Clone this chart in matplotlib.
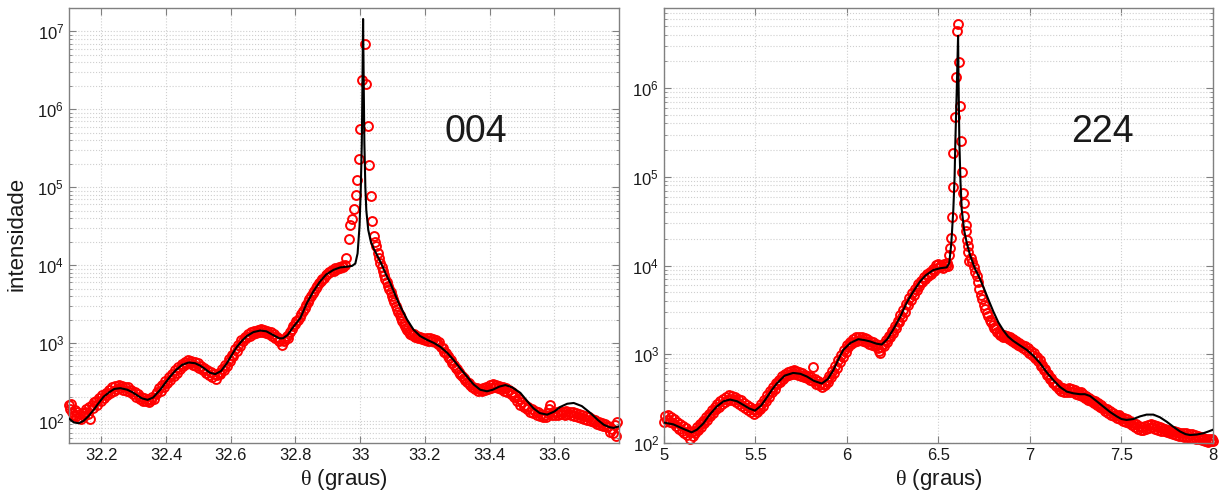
import numpy as np
import matplotlib
matplotlib.use("Agg")
import matplotlib.pyplot as plt
from matplotlib.ticker import LogLocator, FixedLocator, FuncFormatter, NullFormatter

plt.rcParams['font.family'] = ['Liberation Sans', 'DejaVu Sans']
plt.rcParams['mathtext.fontset'] = 'custom'
plt.rcParams['mathtext.rm'] = 'Liberation Serif'

# ---------------- Data: reflection 004 (theta in degrees, log10 intensity) ----------------
theta_004 = [
    32.100, 32.103, 32.106, 32.110, 32.114, 32.118, 32.122, 32.126, 32.130, 32.134,
    32.138, 32.142, 32.146, 32.150, 32.154, 32.158, 32.162, 32.166, 32.170, 32.174,
    32.178, 32.183, 32.188, 32.193, 32.198, 32.203, 32.208, 32.213, 32.218, 32.223,
    32.228, 32.233, 32.238, 32.243, 32.248, 32.253, 32.258, 32.263, 32.268, 32.273,
    32.278, 32.283, 32.288, 32.293, 32.298, 32.303, 32.308, 32.313, 32.318, 32.323,
    32.328, 32.333, 32.338, 32.343, 32.348, 32.353, 32.358, 32.363, 32.368, 32.373,
    32.378, 32.383, 32.388, 32.393, 32.398, 32.403, 32.408, 32.413, 32.418, 32.423,
    32.428, 32.433, 32.438, 32.443, 32.448, 32.453, 32.458, 32.463, 32.468, 32.473,
    32.478, 32.483, 32.488, 32.493, 32.498, 32.503, 32.508, 32.513, 32.518, 32.523,
    32.528, 32.533, 32.538, 32.543, 32.548, 32.553, 32.558, 32.563, 32.568, 32.573,
    32.578, 32.583, 32.588, 32.593, 32.598, 32.603, 32.608, 32.613, 32.618, 32.623,
    32.628, 32.633, 32.638, 32.643, 32.648, 32.653, 32.658, 32.663, 32.668, 32.673,
    32.678, 32.683, 32.688, 32.693, 32.698, 32.703, 32.708, 32.713, 32.718, 32.723,
    32.728, 32.733, 32.738, 32.743, 32.748, 32.753, 32.758, 32.763, 32.768, 32.773,
    32.778, 32.783, 32.788, 32.793, 32.798, 32.803, 32.808, 32.813, 32.818, 32.823,
    32.828, 32.833, 32.838, 32.843, 32.848, 32.853, 32.858, 32.863, 32.868, 32.873,
    32.878, 32.883, 32.888, 32.893, 32.898, 32.903, 32.908, 32.913, 32.918, 32.923,
    32.928, 32.933, 32.938, 32.943, 32.948, 32.953, 32.956,
    32.965, 32.970, 32.975, 32.980, 32.986, 32.990, 32.995, 33.000, 33.005, 33.014,
    33.019, 33.023, 33.027, 33.032, 33.038, 33.042, 33.046, 33.050, 33.054,
    33.058, 33.062, 33.066, 33.070, 33.074, 33.078, 33.082, 33.086, 33.090, 33.094,
    33.098, 33.102, 33.106, 33.110, 33.114, 33.118, 33.122, 33.126, 33.130, 33.134,
    33.138, 33.142, 33.146, 33.150, 33.155, 33.160, 33.165, 33.170, 33.175, 33.180,
    33.185, 33.190, 33.195, 33.200, 33.205, 33.210, 33.215, 33.220, 33.225, 33.230,
    33.235, 33.240, 33.245, 33.250, 33.255, 33.260, 33.265, 33.270, 33.275, 33.280,
    33.285, 33.290, 33.295, 33.300, 33.305, 33.310, 33.315, 33.320, 33.325, 33.330,
    33.335, 33.340, 33.345, 33.350, 33.355, 33.360, 33.365, 33.370, 33.375, 33.380,
    33.385, 33.390, 33.395, 33.400, 33.405, 33.410, 33.415, 33.420, 33.425, 33.430,
    33.435, 33.440, 33.445, 33.450, 33.455, 33.460, 33.465, 33.470, 33.475, 33.480,
    33.485, 33.490, 33.495, 33.500, 33.505, 33.510, 33.515, 33.520, 33.525, 33.530,
    33.535, 33.540, 33.545, 33.550, 33.555, 33.560, 33.565, 33.570, 33.575, 33.580,
    33.585, 33.588, 33.592, 33.597, 33.602, 33.607, 33.612, 33.617, 33.622, 33.627,
    33.632, 33.637, 33.642, 33.647, 33.652, 33.657, 33.662, 33.667, 33.672, 33.677,
    33.682, 33.687, 33.692, 33.697, 33.702, 33.707, 33.712, 33.717, 33.722, 33.727,
    33.732, 33.737, 33.742, 33.747, 33.752, 33.757, 33.762, 33.767, 33.772, 33.777,
    33.782, 33.787, 33.791, 33.795,
]
logI_004 = [
    2.20, 2.15, 2.22, 2.12, 2.08, 2.14, 2.06, 2.11, 2.04, 2.09,
    2.02, 2.10, 2.06, 2.12, 2.15, 2.09, 2.18, 2.02, 2.20, 2.16,
    2.24, 2.25, 2.21, 2.29, 2.26, 2.33, 2.30, 2.36, 2.33, 2.40,
    2.36, 2.43, 2.39, 2.45, 2.41, 2.46, 2.42, 2.45, 2.40, 2.44,
    2.39, 2.43, 2.37, 2.40, 2.34, 2.37, 2.31, 2.34, 2.28, 2.31,
    2.26, 2.29, 2.25, 2.28, 2.24, 2.27, 2.31, 2.28, 2.34, 2.37,
    2.42, 2.39, 2.46, 2.44, 2.51, 2.49, 2.56, 2.53, 2.60, 2.58,
    2.65, 2.62, 2.69, 2.66, 2.73, 2.70, 2.76, 2.73, 2.78, 2.74,
    2.77, 2.72, 2.76, 2.71, 2.74, 2.68, 2.71, 2.65, 2.68, 2.62,
    2.65, 2.59, 2.63, 2.56, 2.60, 2.54, 2.59, 2.62, 2.60, 2.67,
    2.65, 2.72, 2.70, 2.79, 2.77, 2.85, 2.83, 2.92, 2.90, 2.98,
    2.96, 3.04, 3.02, 3.08, 3.06, 3.12, 3.09, 3.14, 3.11, 3.16,
    3.13, 3.17, 3.14, 3.18, 3.14, 3.17, 3.13, 3.16, 3.12, 3.14,
    3.09, 3.11, 3.06, 3.08, 3.03, 3.05, 2.98, 3.02, 3.05, 3.09,
    3.07, 3.14, 3.18, 3.22, 3.24, 3.28, 3.30, 3.34, 3.37, 3.41,
    3.45, 3.49, 3.53, 3.57, 3.60, 3.64, 3.67, 3.71, 3.73, 3.77,
    3.79, 3.82, 3.84, 3.87, 3.88, 3.91, 3.91, 3.94, 3.93, 3.96,
    3.95, 3.97, 3.96, 3.99, 3.97, 4.00, 4.09,
    4.33, 4.51, 4.59, 4.72, 4.90, 5.09, 5.36, 5.75, 6.38, 6.84,
    6.33, 5.79, 5.29, 4.89, 4.57, 4.38, 4.30, 4.25, 4.16,
    4.09, 4.03, 3.97, 3.92, 3.87, 3.82, 3.78, 3.73, 3.69, 3.65,
    3.60, 3.56, 3.52, 3.48, 3.44, 3.40, 3.36, 3.32, 3.28, 3.25,
    3.22, 3.19, 3.17, 3.14, 3.12, 3.10, 3.11, 3.08, 3.09, 3.06,
    3.08, 3.05, 3.07, 3.04, 3.06, 3.03, 3.06, 3.02, 3.05, 3.01,
    3.04, 2.99, 3.01, 2.95, 2.93, 2.89, 2.87, 2.83, 2.81, 2.78,
    2.74, 2.72, 2.68, 2.66, 2.63, 2.60, 2.58, 2.55, 2.53, 2.50,
    2.48, 2.46, 2.44, 2.43, 2.41, 2.42, 2.39, 2.41, 2.38, 2.42,
    2.40, 2.44, 2.41, 2.46, 2.42, 2.47, 2.43, 2.46, 2.42, 2.45,
    2.41, 2.44, 2.39, 2.42, 2.37, 2.40, 2.34, 2.37, 2.31, 2.33,
    2.26, 2.28, 2.20, 2.24, 2.18, 2.21, 2.15, 2.18, 2.12, 2.15,
    2.10, 2.13, 2.08, 2.11, 2.06, 2.09, 2.05, 2.08, 2.05, 2.10,
    2.15, 2.21, 2.08, 2.12, 2.07, 2.11, 2.08, 2.13, 2.09, 2.12,
    2.08, 2.13, 2.09, 2.12, 2.07, 2.11, 2.06, 2.10, 2.05, 2.09,
    2.04, 2.08, 2.03, 2.06, 2.01, 2.05, 2.00, 2.03, 1.98, 2.01,
    1.96, 1.99, 1.95, 1.97, 1.93, 1.96, 1.92, 1.94, 1.86, 1.90,
    1.84, 1.95, 1.80, 1.99,
]
fit_theta_004 = [
    32.100, 32.115, 32.130, 32.145, 32.160, 32.176, 32.190, 32.207, 32.225, 32.240,
    32.259, 32.280, 32.295, 32.310, 32.325, 32.343, 32.360, 32.382, 32.400, 32.413,
    32.430, 32.450, 32.470, 32.490, 32.505, 32.516, 32.535, 32.552, 32.570, 32.588,
    32.605, 32.619, 32.635, 32.650, 32.670, 32.691, 32.710, 32.732, 32.750, 32.761,
    32.775, 32.794, 32.815, 32.835, 32.855, 32.876, 32.895, 32.918, 32.938, 32.960,
    32.975, 32.985, 32.992, 32.998, 33.002, 33.005, 33.007, 33.009, 33.011, 33.013,
    33.016, 33.019, 33.025, 33.033, 33.042, 33.052, 33.065, 33.080, 33.093, 33.110,
    33.124, 33.145, 33.165, 33.185, 33.207, 33.228, 33.248, 33.270, 33.289, 33.310,
    33.330, 33.350, 33.371, 33.392, 33.410, 33.430, 33.449, 33.470, 33.495, 33.515,
    33.536, 33.555, 33.578, 33.600, 33.619, 33.640, 33.660, 33.685, 33.712, 33.735,
    33.753, 33.770, 33.783, 33.800,
]
fit_logI_004 = [
    2.03, 1.98, 1.97, 2.00, 2.06, 2.14, 2.22, 2.31, 2.37, 2.41,
    2.42, 2.40, 2.37, 2.33, 2.29, 2.27, 2.30, 2.40, 2.50, 2.57,
    2.65, 2.72, 2.75, 2.74, 2.71, 2.68, 2.62, 2.60, 2.64, 2.74,
    2.86, 2.95, 3.03, 3.09, 3.14, 3.16, 3.15, 3.10, 3.06, 3.06,
    3.10, 3.21, 3.32, 3.51, 3.66, 3.79, 3.88, 3.94, 3.97, 3.98,
    3.99, 4.02, 4.15, 4.50, 5.00, 5.56, 6.30, 7.16, 6.30, 5.56,
    5.00, 4.70, 4.45, 4.30, 4.21, 4.13, 4.02, 3.88, 3.77, 3.60,
    3.47, 3.30, 3.17, 3.09, 3.04, 3.00, 2.95, 2.87, 2.78, 2.67,
    2.57, 2.47, 2.40, 2.38, 2.40, 2.44, 2.46, 2.43, 2.36, 2.26,
    2.16, 2.10, 2.08, 2.12, 2.18, 2.22, 2.23, 2.19, 2.10, 2.01,
    1.95, 1.92, 1.91, 1.93,
]

# ---------------- Data: reflection 224 ----------------
theta_224 = [
    5.000, 5.008, 5.016, 5.024, 5.032, 5.040, 5.048, 5.056, 5.064, 5.072,
    5.080, 5.088, 5.096, 5.104, 5.112, 5.120, 5.128, 5.136, 5.140, 5.148,
    5.156, 5.164, 5.172, 5.180, 5.188, 5.196, 5.204, 5.212, 5.220, 5.228,
    5.236, 5.244, 5.252, 5.260, 5.268, 5.276, 5.284, 5.292, 5.300, 5.308,
    5.316, 5.324, 5.332, 5.340, 5.348, 5.356, 5.364, 5.372, 5.380, 5.388,
    5.396, 5.404, 5.412, 5.420, 5.428, 5.436, 5.444, 5.452, 5.460, 5.468,
    5.476, 5.484, 5.492, 5.500, 5.508, 5.516, 5.524, 5.532, 5.540, 5.548,
    5.556, 5.564, 5.572, 5.580, 5.588, 5.596, 5.604, 5.612, 5.620, 5.628,
    5.636, 5.644, 5.652, 5.660, 5.668, 5.676, 5.684, 5.692, 5.700, 5.708,
    5.716, 5.724, 5.732, 5.740, 5.748, 5.756, 5.764, 5.772, 5.780, 5.788,
    5.796, 5.804, 5.812, 5.816, 5.824, 5.832, 5.840, 5.848, 5.856, 5.864,
    5.872, 5.880, 5.888, 5.896, 5.904, 5.912, 5.920, 5.928, 5.936, 5.944,
    5.952, 5.960, 5.968, 5.976, 5.984, 5.992, 6.000, 6.008, 6.016, 6.024,
    6.032, 6.040, 6.048, 6.056, 6.064, 6.072, 6.080, 6.088, 6.096, 6.104,
    6.112, 6.120, 6.128, 6.136, 6.144, 6.152, 6.160, 6.168, 6.176, 6.182,
    6.188, 6.196, 6.204, 6.212, 6.220, 6.228, 6.236, 6.244, 6.252, 6.260,
    6.268, 6.276, 6.284, 6.292, 6.300, 6.308, 6.316, 6.324, 6.332, 6.340,
    6.348, 6.356, 6.364, 6.372, 6.380, 6.388, 6.396, 6.404, 6.412, 6.420,
    6.428, 6.436, 6.444, 6.452, 6.460, 6.468, 6.476, 6.484, 6.492, 6.500,
    6.508, 6.516, 6.524, 6.532, 6.540, 6.548, 6.554,
    6.559, 6.561, 6.567, 6.572, 6.578, 6.581, 6.588, 6.594, 6.602, 6.607,
    6.612, 6.619, 6.623, 6.628, 6.636, 6.639, 6.641, 6.650, 6.652, 6.656,
    6.659, 6.663, 6.668,
    6.676, 6.684, 6.692, 6.700, 6.708, 6.716, 6.724, 6.732, 6.740, 6.748,
    6.756, 6.764, 6.772, 6.780, 6.788, 6.796, 6.804, 6.812, 6.820, 6.828,
    6.836, 6.844, 6.852, 6.860, 6.868, 6.876, 6.884, 6.892, 6.900, 6.908,
    6.916, 6.924, 6.932, 6.940, 6.948, 6.956, 6.964, 6.972, 6.980, 6.988,
    6.996, 7.004, 7.012, 7.020, 7.028, 7.036, 7.044, 7.052, 7.060, 7.068,
    7.076, 7.084, 7.092, 7.100, 7.108, 7.116, 7.124, 7.132, 7.140, 7.148,
    7.156, 7.164, 7.172, 7.180, 7.188, 7.196, 7.204, 7.212, 7.220, 7.228,
    7.236, 7.244, 7.252, 7.260, 7.268, 7.276, 7.284, 7.292, 7.300, 7.308,
    7.316, 7.324, 7.332, 7.340, 7.348, 7.356, 7.364, 7.372, 7.380, 7.388,
    7.396, 7.404, 7.412, 7.420, 7.428, 7.436, 7.444, 7.452, 7.460, 7.468,
    7.476, 7.484, 7.492, 7.500, 7.508, 7.516, 7.524, 7.532, 7.540, 7.548,
    7.556, 7.564, 7.572, 7.580, 7.588, 7.596, 7.604, 7.612, 7.620, 7.628,
    7.636, 7.644, 7.652, 7.660, 7.668, 7.676, 7.684, 7.692, 7.700, 7.708,
    7.716, 7.724, 7.732, 7.740, 7.748, 7.756, 7.764, 7.772, 7.780, 7.788,
    7.796, 7.804, 7.812, 7.820, 7.828, 7.836, 7.844, 7.852, 7.860, 7.868,
    7.876, 7.884, 7.892, 7.900, 7.908, 7.916, 7.924, 7.932, 7.940, 7.948,
    7.956, 7.964, 7.972, 7.980, 7.988, 7.996, 8.000,
]
logI_224 = [
    2.24, 2.30, 2.26, 2.31, 2.24, 2.29, 2.22, 2.27, 2.19, 2.24,
    2.16, 2.21, 2.14, 2.19, 2.11, 2.17, 2.09, 2.14, 2.05, 2.12,
    2.08, 2.14, 2.11, 2.18, 2.15, 2.21, 2.18, 2.25, 2.22, 2.29,
    2.26, 2.33, 2.30, 2.37, 2.34, 2.41, 2.38, 2.44, 2.41, 2.47,
    2.44, 2.50, 2.46, 2.52, 2.48, 2.54, 2.49, 2.53, 2.48, 2.52,
    2.46, 2.50, 2.44, 2.48, 2.42, 2.45, 2.39, 2.43, 2.37, 2.41,
    2.35, 2.38, 2.33, 2.37, 2.35, 2.40, 2.38, 2.44, 2.42, 2.49,
    2.47, 2.54, 2.52, 2.59, 2.57, 2.63, 2.61, 2.68, 2.66, 2.71,
    2.69, 2.75, 2.72, 2.78, 2.75, 2.80, 2.77, 2.81, 2.78, 2.82,
    2.78, 2.81, 2.77, 2.80, 2.76, 2.79, 2.74, 2.77, 2.73, 2.76,
    2.71, 2.74, 2.70, 2.86, 2.72, 2.67, 2.70, 2.65, 2.68, 2.63,
    2.67, 2.65, 2.71, 2.69, 2.76, 2.74, 2.81, 2.79, 2.87, 2.85,
    2.93, 2.91, 2.99, 2.97, 3.05, 3.03, 3.10, 3.08, 3.14, 3.12,
    3.17, 3.14, 3.19, 3.15, 3.20, 3.16, 3.19, 3.15, 3.18, 3.14,
    3.17, 3.12, 3.15, 3.10, 3.14, 3.09, 3.12, 3.07, 3.04, 3.01,
    3.08, 3.12, 3.09, 3.16, 3.14, 3.21, 3.19, 3.26, 3.24, 3.32,
    3.30, 3.38, 3.36, 3.44, 3.42, 3.50, 3.48, 3.57, 3.55, 3.63,
    3.61, 3.69, 3.67, 3.74, 3.72, 3.79, 3.77, 3.83, 3.81, 3.87,
    3.85, 3.90, 3.88, 3.93, 3.91, 3.96, 3.94, 4.01, 3.97, 4.02,
    3.98, 4.01, 3.97, 4.02, 3.99, 4.03, 4.00,
    4.12, 4.20, 4.31, 4.55, 4.88, 5.27, 5.67, 6.13, 6.64, 6.72,
    6.29, 5.80, 5.40, 5.06, 4.82, 4.71, 4.56, 4.46, 4.39, 4.29,
    4.22, 4.15, 4.05,
    4.08, 4.04, 3.98, 3.93, 3.88, 3.82, 3.74, 3.67, 3.62, 3.56,
    3.51, 3.47, 3.43, 3.39, 3.36, 3.33, 3.30, 3.28, 3.25, 3.24,
    3.22, 3.23, 3.20, 3.22, 3.19, 3.21, 3.17, 3.19, 3.15, 3.17,
    3.13, 3.15, 3.11, 3.13, 3.09, 3.11, 3.07, 3.09, 3.05, 3.07,
    3.02, 3.04, 2.99, 3.01, 2.96, 2.97, 2.92, 2.93, 2.87, 2.88,
    2.82, 2.83, 2.77, 2.78, 2.72, 2.73, 2.68, 2.69, 2.64, 2.66,
    2.61, 2.63, 2.59, 2.62, 2.58, 2.61, 2.58, 2.62, 2.58, 2.61,
    2.57, 2.60, 2.55, 2.58, 2.54, 2.57, 2.53, 2.55, 2.51, 2.53,
    2.49, 2.51, 2.47, 2.49, 2.45, 2.47, 2.43, 2.45, 2.41, 2.43,
    2.39, 2.40, 2.36, 2.38, 2.34, 2.36, 2.32, 2.34, 2.30, 2.32,
    2.28, 2.31, 2.27, 2.29, 2.25, 2.28, 2.24, 2.27, 2.22, 2.25,
    2.20, 2.23, 2.18, 2.21, 2.16, 2.19, 2.15, 2.18, 2.15, 2.19,
    2.16, 2.20, 2.17, 2.21, 2.18, 2.20, 2.16, 2.19, 2.15, 2.18,
    2.14, 2.17, 2.13, 2.16, 2.12, 2.15, 2.11, 2.14, 2.10, 2.13,
    2.09, 2.12, 2.08, 2.11, 2.08, 2.11, 2.07, 2.11, 2.07, 2.10,
    2.06, 2.10, 2.06, 2.09, 2.05, 2.08, 2.04, 2.07, 2.03, 2.06,
    2.02, 2.05, 2.01, 2.04, 2.02, 2.05, 2.02,
]
fit_theta_224 = [
    5.000, 5.051, 5.105, 5.151, 5.180, 5.215, 5.250, 5.288, 5.325, 5.361,
    5.400, 5.433, 5.465, 5.497, 5.530, 5.561, 5.590, 5.616, 5.660, 5.706,
    5.745, 5.780, 5.820, 5.862, 5.895, 5.925, 5.955, 5.980, 6.020, 6.062,
    6.095, 6.126, 6.160, 6.190, 6.220, 6.253, 6.290, 6.326, 6.360, 6.399,
    6.430, 6.472, 6.510, 6.545, 6.559, 6.570, 6.581, 6.588, 6.592, 6.600,
    6.607, 6.610, 6.614, 6.620, 6.627, 6.640, 6.654, 6.672, 6.700, 6.720,
    6.745, 6.770, 6.800, 6.827, 6.854, 6.880, 6.909, 6.945, 6.982, 7.020,
    7.055, 7.090, 7.127, 7.165, 7.200, 7.237, 7.273, 7.300, 7.328, 7.365,
    7.401, 7.437, 7.474, 7.500, 7.528, 7.565, 7.601, 7.637, 7.674, 7.710,
    7.747, 7.785, 7.820, 7.850, 7.874, 7.910, 7.947, 7.975, 8.000,
]
fit_logI_224 = [
    2.23, 2.21, 2.16, 2.12, 2.15, 2.22, 2.32, 2.41, 2.47, 2.49,
    2.47, 2.43, 2.39, 2.365, 2.42, 2.51, 2.60, 2.67, 2.76, 2.79,
    2.78, 2.75, 2.70, 2.67, 2.72, 2.82, 2.95, 3.05, 3.13, 3.17,
    3.16, 3.145, 3.12, 3.11, 3.17, 3.28, 3.42, 3.58, 3.70, 3.82,
    3.89, 3.95, 3.97, 3.98, 4.03, 4.25, 4.63, 5.00, 5.39, 6.00,
    6.59, 6.00, 5.39, 4.95, 4.63, 4.40, 4.26, 4.12, 3.96, 3.88,
    3.76, 3.63, 3.48, 3.36, 3.27, 3.20, 3.15, 3.10, 3.05, 2.98,
    2.90, 2.80, 2.71, 2.63, 2.58, 2.56, 2.55, 2.55, 2.53, 2.47,
    2.41, 2.35, 2.30, 2.27, 2.26, 2.27, 2.30, 2.32, 2.32, 2.29,
    2.24, 2.18, 2.13, 2.10, 2.09, 2.095, 2.11, 2.13, 2.15,
]

xticks_004 = [32.2, 32.4, 32.6, 32.8, 33.0, 33.2, 33.4, 33.6]
xticks_224 = [5, 5.5, 6, 6.5, 7, 7.5, 8]
labels = ["004", "224"]

W, H = 1229, 497
fig = plt.figure(figsize=(W / 100, H / 100), dpi=100)
ax1 = fig.add_axes([69 / W, 1 - 443 / H, 550 / W, 435 / H])
ax2 = fig.add_axes([664 / W, 1 - 443 / H, 549 / W, 435 / H])

spine_col = "#808080"
grid_col = "#cfcfcf"


def style(ax, xlim, ylim, xticks, label, lx):
    ax.set_yscale("log")
    ax.set_xlim(*xlim)
    ax.set_ylim(*ylim)
    ax.xaxis.set_major_locator(FixedLocator(xticks))
    ax.xaxis.set_major_formatter(FuncFormatter(lambda v, p: "%g" % v))
    ax.yaxis.set_major_locator(LogLocator(base=10, numticks=20))
    ax.yaxis.set_minor_locator(LogLocator(base=10, subs=np.arange(2, 10), numticks=100))
    ax.yaxis.set_minor_formatter(NullFormatter())
    for s in ax.spines.values():
        s.set_color(spine_col)
        s.set_linewidth(1.0)
    ax.tick_params(which="both", direction="in", top=True, right=True,
                   colors=spine_col, labelcolor="#1a1a1a", labelsize=12)
    ax.tick_params(which="major", length=5)
    ax.tick_params(which="minor", length=2.5)
    ax.grid(True, which="major", color=grid_col, linestyle=":", linewidth=0.8)
    ax.grid(True, which="minor", axis="y", color=grid_col, linestyle=":", linewidth=0.8)
    ax.set_axisbelow(True)
    ax.set_xlabel(r"$\mathrm{\theta}$ (graus)", fontsize=16, color="#1a1a1a", labelpad=3)
    ax.text(lx, 0.715, label, transform=ax.transAxes, fontsize=27,
            ha="center", va="center", color="#1a1a1a")


ax1.plot(theta_004, 10 ** np.array(logI_004), "o", mfc="none", mec="#ff0000",
         ms=6.4, mew=1.4, clip_on=False, zorder=2)
ax1.plot(fit_theta_004, 10 ** np.array(fit_logI_004), "-", color="black", lw=1.5, zorder=3)
style(ax1, (32.1, 33.8), (52, 2.0e7), xticks_004, labels[0], 0.74)
ax1.set_ylabel("intensidade", fontsize=16, color="#1a1a1a", labelpad=4)
ax1.yaxis.set_label_coords(-0.076, 0.48)

ax2.plot(theta_224, 10 ** np.array(logI_224), "o", mfc="none", mec="#ff0000",
         ms=6.4, mew=1.4, clip_on=False, zorder=2)
ax2.plot(fit_theta_224, 10 ** np.array(fit_logI_224), "-", color="black", lw=1.5, zorder=3)
style(ax2, (5, 8), (100, 8.0e6), xticks_224, labels[1], 0.798)

fig.savefig("out.png", dpi=100)
